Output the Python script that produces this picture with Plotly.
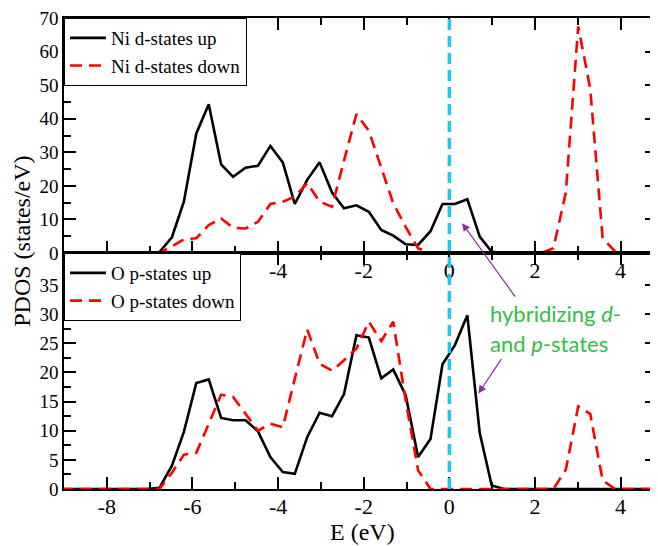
import plotly.graph_objects as go

# Energy grid (eV)
energy = [-9.07, -8.78, -8.50, -8.21, -7.92, -7.63, -7.35, -7.06,
          -6.77, -6.48, -6.20, -5.91, -5.62, -5.33, -5.05, -4.76, -4.47, -4.18,
          -3.89, -3.61, -3.32, -3.03, -2.74, -2.46, -2.17, -1.88, -1.59, -1.31,
          -1.02, -0.73, -0.44, -0.16, 0.13, 0.42, 0.71, 0.99, 1.28, 1.57,
          1.86, 2.14, 2.43, 2.72, 3.01, 3.29, 3.58, 3.87, 4.16, 4.44, 4.73, 5.02]

ni_d_up = [0, 0, 0, 0, 0, 0, 0, 0,
           0.3, 4.7, 15.3, 35.6, 44.3, 26.4, 22.7, 25.4, 26.0, 31.9,
           27.0, 14.6, 21.8, 27.0, 18.0, 13.3, 14.2, 12.3, 6.9, 5.2,
           2.6, 2.4, 6.5, 14.6, 14.6, 16.0, 4.9, 0.4, 0, 0,
           0, 0, 0, 0, 0, 0, 0, 0, 0, 0, 0, 0]

ni_d_down = [0, 0, 0, 0, 0, 0, 0, 0,
             0, 2.0, 4.1, 4.4, 8.3, 10.3, 7.5, 7.3, 9.3, 14.6,
             15.3, 16.8, 20.8, 15.3, 13.8, 27.5, 41.4, 36.4, 25.7, 14.8,
             7.8, 1.4, 0, 0, 0, 0, 0, 0, 0, 0,
             0, 0, 1.4, 18.0, 67.5, 49.0, 4.4, 0.5, 0, 0, 0, 0]

o_p_up = [0, 0, 0, 0, 0, 0, 0, 0,
          0.2, 4.0, 9.8, 18.2, 18.8, 12.2, 11.8, 11.8, 9.9, 5.5,
          2.9, 2.6, 8.9, 13.1, 12.5, 16.3, 26.4, 26.0, 19.0, 20.5,
          16.1, 5.5, 8.6, 21.4, 24.7, 29.8, 9.6, 0.6, 0, 0,
          0, 0, 0, 0, 0, 0, 0, 0, 0, 0, 0, 0]

o_p_down = [0, 0, 0, 0, 0, 0, 0, 0,
            0, 2.8, 5.9, 6.2, 11.2, 16.2, 15.8, 12.8, 10.0, 11.2,
            10.6, 18.9, 27.4, 21.5, 20.3, 22.1, 24.1, 28.7, 25.4, 28.7,
            15.2, 3.2, 0, 0, 0, 0, 0, 0, 0, 0,
            0, 0, 0, 3.3, 14.2, 12.9, 1.5, 0, 0, 0, 0, 0]

x_ticks = [-8, -6, -4, -2, 0, 2, 4]
x_tick_text = ["-8", "-6", "-4", "-2", "0", "2", "4"]
top_x_tick_text = ["", "", "-4", "-2", "0", "2", "4"]  # -8, -6 sit behind the lower legend
top_y_ticks = [0, 10, 20, 30, 40, 50, 60, 70]
bottom_y_ticks = [0, 5, 10, 15, 20, 25, 30, 35]

SERIF = "Liberation Serif"
LW = 2.6

fig = go.Figure()
fig.add_trace(go.Scatter(x=energy, y=ni_d_up, mode="lines", name="Ni d-states up",
                         line=dict(color="black", width=LW), xaxis="x", yaxis="y",
                         legend="legend"))
fig.add_trace(go.Scatter(x=energy, y=ni_d_down, mode="lines", name="Ni d-states down",
                         line=dict(color="#ff0000", width=LW, dash="12px,7px"),
                         xaxis="x", yaxis="y", legend="legend"))
fig.add_trace(go.Scatter(x=energy, y=o_p_up, mode="lines", name="O p-states up",
                         line=dict(color="black", width=LW), xaxis="x2", yaxis="y2",
                         legend="legend2"))
fig.add_trace(go.Scatter(x=energy, y=o_p_down, mode="lines", name="O p-states down",
                         line=dict(color="#ff0000", width=LW, dash="12px,7px"),
                         xaxis="x2", yaxis="y2", legend="legend2"))

split = 0.501

axis_common = dict(showline=True, linecolor="black", linewidth=1.5, mirror="allticks",
                   ticks="inside", ticklen=12, tickwidth=1.5, tickcolor="black",
                   showgrid=False, zeroline=False, automargin=False,
                   ticklabeloverflow="allow")

xfont = dict(family=SERIF, size=22, color="black")
yfont = dict(family=SERIF, size=19, color="black")

xcommon = dict(axis_common, range=[-9, 4.85], tickmode="array", tickvals=x_ticks,
               tickfont=xfont, ticklabelstandoff=-3,
               minor=dict(dtick=1, tick0=0, ticks="inside", ticklen=7, tickcolor="black"))

legend_common = dict(x=0, xanchor="left", yanchor="top", bgcolor="white",
                     bordercolor="black", borderwidth=1, itemwidth=36,
                     font=dict(family=SERIF, size=19, color="black"))

fig.update_layout(
    width=650, height=546,
    margin=dict(l=56, r=1, t=10, b=65),
    plot_bgcolor="white", paper_bgcolor="white",
    xaxis=dict(xcommon, domain=[0, 1], anchor="y", ticktext=top_x_tick_text),
    xaxis2=dict(xcommon, domain=[0, 1], anchor="y2", ticktext=x_tick_text),
    yaxis=dict(axis_common, domain=[split, 1], anchor="x", range=[0, 70],
               tickmode="array", tickvals=top_y_ticks, tickfont=yfont,
               minor=dict(dtick=5, tick0=0, ticks="inside", ticklen=7, tickcolor="black")),
    yaxis2=dict(axis_common, domain=[0, split], anchor="x2", range=[0, 40.5],
                tickmode="array", tickvals=bottom_y_ticks, tickfont=yfont,
                minor=dict(dtick=2.5, tick0=0, ticks="inside", ticklen=7, tickcolor="black")),
    legend=dict(legend_common, y=1),
    legend2=dict(legend_common, y=split),
    showlegend=True,
)

# Fermi level line
fig.add_shape(type="line", xref="x", yref="paper", x0=0, x1=0, y0=0, y1=1,
              line=dict(color="#1fc6f0", width=3.5, dash="11px,6px"))

# Axis titles
fig.add_annotation(text="PDOS (states/eV)", xref="paper", yref="paper",
                   x=-0.0708, y=0.525, textangle=-90, showarrow=False,
                   xanchor="center", yanchor="middle",
                   font=dict(family=SERIF, size=24, color="black"))
fig.add_annotation(text="E (eV)", xref="paper", yref="paper",
                   x=0.504, y=-0.0913, xanchor="center", yanchor="middle",
                   showarrow=False, font=dict(family=SERIF, size=24, color="black"))

# Hybridization annotation
green = "#35bd45"
fig.add_annotation(text="hybridizing <i>d</i>-", xref="paper", yref="paper",
                   x=(488 - 64) / 593, y=(489 - 313) / 471, xanchor="left",
                   yanchor="middle", showarrow=False,
                   font=dict(family="Lato", size=22, color=green))
fig.add_annotation(text="and <i>p</i>-states", xref="paper", yref="paper",
                   x=(488 - 64) / 593, y=(489 - 343) / 471, xanchor="left",
                   yanchor="middle", showarrow=False,
                   font=dict(family="Lato", size=22, color=green))

purple = "#8e2ca0"
fig.add_annotation(x=0.30, y=8.9, xref="x", yref="y", ax=54, ay=75, text="",
                   showarrow=True, arrowhead=2, arrowsize=1.3, arrowwidth=1.2,
                   arrowcolor=purple)
fig.add_annotation(x=0.68, y=16.4, xref="x2", yref="y2", ax=24, ay=-36, text="",
                   showarrow=True, arrowhead=2, arrowsize=1.3, arrowwidth=1.2,
                   arrowcolor=purple)

fig.write_html("out.html")
